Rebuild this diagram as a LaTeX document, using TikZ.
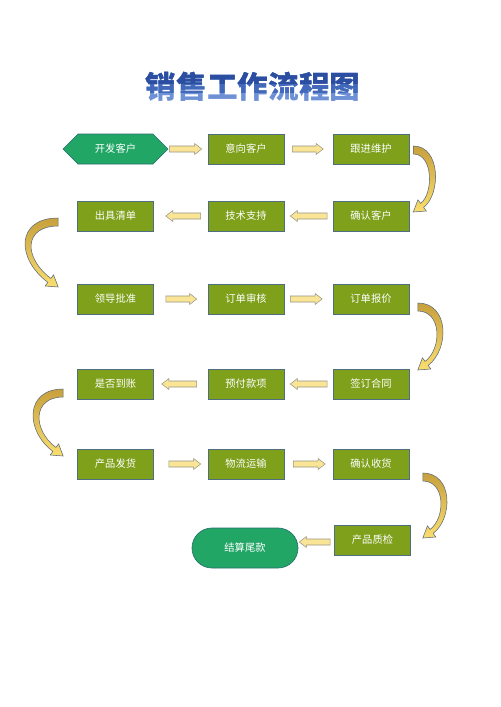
\documentclass[tikz,border=0pt]{standalone}
\usepackage{fontspec}
\newfontfamily\cjk{Noto Sans CJK SC}
\usetikzlibrary{calc,shapes.symbols,shapes.misc}
\definecolor{boxg}{RGB}{127,160,26}
\definecolor{boxline}{RGB}{80,110,130}
\definecolor{termg}{RGB}{34,166,102}
\definecolor{termline}{RGB}{40,110,110}
\definecolor{arrfill}{RGB}{250,228,150}
\definecolor{arrline}{RGB}{150,150,130}
\definecolor{goldtop}{RGB}{200,160,60}
\definecolor{goldbot}{RGB}{250,222,110}
\definecolor{curveline}{RGB}{90,105,120}
\definecolor{titledark}{RGB}{44,78,160}
\definecolor{titlemid}{RGB}{66,104,186}
\definecolor{titlelight}{RGB}{110,145,214}
\tikzset{
  boxtext/.style={text=white, font=\cjk\fontsize{7.7}{8}\selectfont, inner sep=0pt},
  stepbox/.style={boxtext, draw=boxline, line width=0.5pt, fill=boxg, minimum width=57pt, minimum height=22.5pt},
  hexbox/.style={boxtext, signal, signal to=west and east, signal pointer angle=90, draw=termline, line width=0.5pt, fill=termg, minimum width=78.75pt, minimum height=22.5pt},
  termbox/.style={boxtext, rounded rectangle, draw=termline, line width=0.5pt, fill=termg, minimum width=79.5pt, minimum height=30pt},
  blockarrow/.style={fill=arrfill, draw=arrline, line width=0.4pt},
  curvearrow/.style={top color=goldtop, bottom color=goldbot, draw=curveline, line width=0.4pt},
  titletext/.style={font=\cjk\bfseries\fontsize{23}{26}\selectfont, inner sep=0pt},
}
\newcommand\blockarr[3]{%
  \draw[blockarrow] let \p1=(#1), \p2=(#2) in
    (\x1,\y1+2.25pt) -- (\x2-#3*5.25pt,\y1+2.25pt) -- (\x2-#3*5.25pt,\y1+4.1pt) -- (\x2,\y1)
    -- (\x2-#3*5.25pt,\y1-4.1pt) -- (\x2-#3*5.25pt,\y1-2.25pt) -- (\x1,\y1-2.25pt) -- cycle;}
\newcommand\curvarr[4]{%
  \pgfmathsetmacro\crvA{(#3+1.7)/0.75}%
  \pgfmathsetmacro\crvK{(\crvA-10.3)/0.8}%
  \pgfmathsetmacro\crvB{(#3-3.9)/0.75}%
  \pgfmathsetmacro\crvM{(\crvB-7.3)/0.8}%
  \begin{scope}[shift={#1},xscale=#2]
    \draw[curvearrow] (0,-4) .. controls (\crvA,-4) and (\crvA,{#4-4.6-0.6*\crvK}) .. (10.3,{#4-4.6})
      -- (13,{#4-1}) -- (0,#4) -- (4.6,{#4-12.2}) -- (7.3,{#4-8.6})
      .. controls (\crvB,{#4-8.6-0.6*\crvM}) and (\crvB,4) .. (0,4) -- cycle;
  \end{scope}}
\begin{document}
\begin{tikzpicture}[x=0.75pt,y=-0.75pt]
\fill[white] (0,0) rectangle (500,707);
\useasboundingbox (0,0) rectangle (500,707);
% title with a top-to-bottom blue gradient (three clipped layers)
\node[titletext, text=titlelight] (title) at (253,87) {销售工作流程图};
\begin{scope}
  \clip (100,60) rectangle (400,92);
  \node[titletext, text=titlemid] (titleb) at (253,87) {销售工作流程图};
\end{scope}
\begin{scope}
  \clip (100,60) rectangle (400,83);
  \node[titletext, text=titledark] (titlec) at (253,87) {销售工作流程图};
\end{scope}
\node[hexbox] (n1) at (115.5,149) {开发客户};
\node[stepbox] (n2) at (246,149) {意向客户};
\node[stepbox] (n3) at (371,149) {跟进维护};
\node[stepbox] (n4) at (371,216) {确认客户};
\node[stepbox] (n5) at (246,216) {技术支持};
\node[stepbox] (n6) at (115.5,216) {出具清单};
\node[stepbox] (n7) at (115.5,299) {领导批准};
\node[stepbox] (n8) at (246,299) {订单审核};
\node[stepbox] (n9) at (371,299) {订单报价};
\node[stepbox] (n10) at (371,384) {签订合同};
\node[stepbox] (n11) at (246,384) {预付款项};
\node[stepbox] (n12) at (115.5,384) {是否到账};
\node[stepbox] (n13) at (115.5,464) {产品发货};
\node[stepbox] (n14) at (246,464) {物流运输};
\node[stepbox] (n15) at (371,464) {确认收货};
\node[stepbox] (n16) at (372.5,540) {产品质检};
\node[termbox] (n17) at (245,548) {结算尾款};
\blockarr{$(n1.east)+(1,0)$}{$(n2.west)+(-6,0)$}{1}
\blockarr{$(n2.east)+(8,0)$}{$(n3.west)+(-9.5,0)$}{1}
\blockarr{$(n4.west)+(-5.5,0)$}{$(n5.east)+(6,0)$}{-1}
\blockarr{$(n5.west)+(-7,0)$}{$(n6.east)+(12,0)$}{-1}
\blockarr{$(n7.east)+(12,0)$}{$(n8.west)+(-11,0)$}{1}
\blockarr{$(n8.east)+(6,0)$}{$(n9.west)+(-10.5,0)$}{1}
\blockarr{$(n10.west)+(-5.5,0)$}{$(n11.east)+(6,0)$}{-1}
\blockarr{$(n11.west)+(-11,0)$}{$(n12.east)+(8,0)$}{-1}
\blockarr{$(n13.east)+(15,0)$}{$(n14.west)+(-7,0)$}{1}
\blockarr{$(n14.east)+(9,0)$}{$(n15.west)+(-7.5,0)$}{1}
\blockarr{$(n16.west)+(-4,2)$}{$(n17.east)+(1,0)$}{-1}
\curvarr{($(n3.east)+(4,1)$)}{1}{19}{62}
\curvarr{($(n6.west)+(-19,6)$)}{-1}{30}{65}
\curvarr{($(n9.east)+(8.5,8)$)}{1}{22}{63}
\curvarr{($(n12.west)+(-14,9)$)}{-1}{27}{63}
\curvarr{($(n15.east)+(13.5,13)$)}{1}{21}{61}
\end{tikzpicture}
\end{document}
